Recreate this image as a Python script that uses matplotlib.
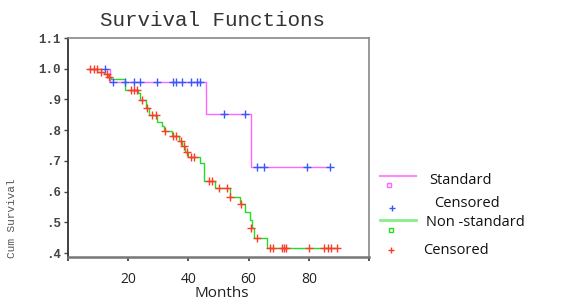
import matplotlib
matplotlib.use("Agg")
import matplotlib.pyplot as plt
from matplotlib.lines import Line2D

# ---- data ----
std_times = [7.0, 13.9, 46.0, 60.8, 86.9]
std_surv = [1.0, 0.958, 0.852, 0.681, 0.681]
std_cens_t = [12.2, 14.8, 18.9, 22.0, 23.9, 29.7, 35.0, 36.0, 38.0, 40.9, 43.0, 43.7,
              51.8, 58.7, 62.9, 65.0, 79.4, 86.9]
std_cens_s = [1.0] + [0.958] * 11 + [0.852] * 2 + [0.681] * 4

ns_times = [6.7, 9.8, 12.0, 13.3, 14.2, 19.0, 23.1, 23.9, 25.8, 26.9, 29.5, 31.3, 31.9,
            34.5, 36.9, 38.0, 39.0, 40.0, 43.7, 45.1, 48.8, 53.7, 57.0, 58.7, 60.4, 61.1,
            61.9, 66.1, 89.3]
ns_surv = [1.0, 0.99, 0.982, 0.974, 0.966, 0.932, 0.922, 0.897, 0.871, 0.849, 0.825, 0.812,
           0.796, 0.782, 0.766, 0.748, 0.73, 0.713, 0.692, 0.633, 0.612, 0.583, 0.558, 0.534,
           0.506, 0.48, 0.45, 0.415, 0.415]
ns_cens_t = [7.4, 8.5, 9.5, 10.9, 12.9, 13.7, 20.9, 22.0, 22.8, 24.7, 26.4, 28.0, 29.1,
             32.2, 35.0, 35.8, 37.4, 38.5, 39.6, 40.7, 41.8, 46.8, 47.9, 50.3, 52.9, 53.9,
             57.5, 60.8, 62.8, 67.2, 68.1, 71.1, 71.6, 72.4, 80.1, 84.9, 86.5, 87.4, 89.3]
ns_cens_s = [1.0, 1.0, 1.0, 0.99, 0.982, 0.974, 0.932, 0.932, 0.932, 0.897, 0.871, 0.849,
             0.849, 0.796, 0.782, 0.782, 0.766, 0.748, 0.73, 0.713, 0.713, 0.633, 0.633,
             0.612, 0.612, 0.583, 0.558, 0.48, 0.45] + [0.415] * 10

y_ticks = [0.4, 0.5, 0.6, 0.7, 0.8, 0.9, 1.0, 1.1]
y_labels = [".4", ".5", ".6", ".7", ".8", ".9", "1.0", "1.1"]
x_ticks = [0, 20, 40, 60, 80, 100]
x_labels = ["", "20", "40", "60", "80", ""]

legend_labels = ["Standard", "Censored", "Non -standard", "Censored"]

# ---- style ----
MAG = "#ff66ff"
BLUE = "#3558ff"
GREEN = "#22dd22"
RED = "#ff3a2a"
W, H = 567, 300

fig = plt.figure(figsize=(5.67, 3.0), dpi=100)
ax = fig.add_axes([68 / W, 1 - 257 / H, (369 - 68) / W, (257 - 38) / H])

ax.step(std_times, std_surv, where="post", color=MAG, lw=1.0, zorder=2)
ax.step(ns_times, ns_surv, where="post", color=GREEN, lw=1.0, zorder=3)
ax.plot(std_cens_t, std_cens_s, ls="none", marker="+", ms=6, mew=1.0, color=BLUE, zorder=4)
ax.plot(ns_cens_t, ns_cens_s, ls="none", marker="+", ms=6, mew=1.0, color=RED, zorder=5)

ax.set_xlim(0, 100)
ax.set_ylim(0.387, 1.1)
ax.set_xticks(x_ticks)
ax.set_xticklabels(x_labels, fontfamily="Open Sans", fontsize=10, color="#222222")
ax.set_yticks(y_ticks)
ax.set_yticklabels(y_labels, fontfamily="Liberation Mono", fontsize=9,
                   fontweight="bold", color="#444444")
ax.tick_params(axis="x", length=3, width=1.2, color="#333333", pad=8)
ax.tick_params(axis="y", length=3, width=1.0, color="#444444", pad=2)

ax.spines["left"].set_color("#333333")
ax.spines["left"].set_linewidth(1.3)
ax.spines["bottom"].set_color("#777777")
ax.spines["bottom"].set_linewidth(1.8)
for s in ["top", "right"]:
    ax.spines[s].set_color("#888888")
    ax.spines[s].set_linewidth(1.2)

ax.set_ylabel("Cum Survival", fontfamily="Liberation Mono", fontsize=8, color="#555555")
ax.yaxis.set_label_coords(-(68 - 17) / (369 - 68), (257 - 218) / (257 - 38))
ax.set_xlabel("Months", fontfamily="Open Sans", fontsize=11, color="#222222")
ax.xaxis.set_label_coords((222 - 68) / (369 - 68), -(297 - 257) / (257 - 38))
ax.xaxis.label.set_verticalalignment("baseline")

fig.text(212 / W, 1 - 20 / H, "Survival Functions", fontfamily="Liberation Mono",
         fontsize=15, color="#333333", ha="center", va="center")

# ---- legend (outside, right) ----
def fx(px):
    return px / W

def fy(py):
    return 1 - py / H

fig.add_artist(Line2D([fx(380), fx(416)], [fy(176), fy(176)], color="#ff88ff", lw=1.5,
                      transform=fig.transFigure))
fig.add_artist(Line2D([fx(389)], [fy(185)], marker="s", ms=3, mfc="none", mec=MAG, mew=1,
                      ls="none", transform=fig.transFigure))
fig.add_artist(Line2D([fx(392)], [fy(207.5)], marker="+", ms=5, mew=1, color=BLUE,
                      ls="none", transform=fig.transFigure))
fig.add_artist(Line2D([fx(380), fx(416)], [fy(220), fy(220)], color="#88ee88", lw=2,
                      transform=fig.transFigure))
fig.add_artist(Line2D([fx(391)], [fy(229.5)], marker="s", ms=3, mfc="none", mec=GREEN, mew=1,
                      ls="none", transform=fig.transFigure))
fig.add_artist(Line2D([fx(391)], [fy(250)], marker="+", ms=5, mew=1, color=RED,
                      ls="none", transform=fig.transFigure))

leg_pos = [(429, 180), (434, 203.5), (426, 222.5), (423, 250)]
for lab, (px, py) in zip(legend_labels, leg_pos):
    fig.text(fx(px), fy(py), lab, fontfamily="Open Sans", fontsize=10.5, color="#111111",
             ha="left", va="center")

fig.savefig("out.png", dpi=100)
